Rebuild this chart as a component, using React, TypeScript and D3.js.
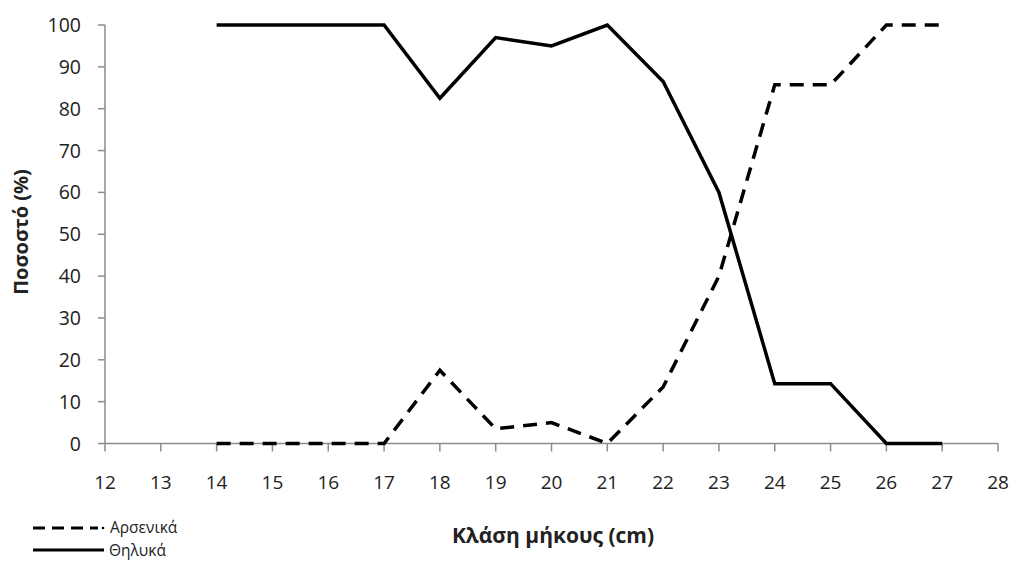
import React from "react";
import * as d3 from "d3";

const lengthClasses = [14, 15, 16, 17, 18, 19, 20, 21, 22, 23, 24, 25, 26, 27];
const males = [0, 0, 0, 0, 17.5, 3.5, 5, 0, 13.5, 40, 85.7, 85.7, 100, 100];
const females = [100, 100, 100, 100, 82.5, 97, 95, 100, 86.5, 60, 14.3, 14.3, 0, 0];
const xTicks = d3.range(12, 29);
const yTicks = d3.range(0, 101, 10);

const W = 1015;
const H = 561;
const FONT = "'Open Sans', 'Noto Sans', sans-serif";

export default function App() {
  const x = d3.scaleLinear().domain([12, 28]).range([105, 998]);
  const y = d3.scaleLinear().domain([0, 100]).range([443.5, 25]);
  const line = d3
    .line<number>()
    .x((_, i) => x(lengthClasses[i]))
    .y((d) => y(d));
  const axisColor = "#8c8c8c";
  return (
    <svg
      width={W}
      height={H}
      style={{ position: "absolute", left: 0, top: 0, background: "#fff" }}
      fontFamily={FONT}
    >
      <rect width={W} height={H} fill="#fff" />
      {/* y axis */}
      <line x1={x(12)} x2={x(12)} y1={y(0)} y2={y(100)} stroke={axisColor} strokeWidth={1.5} />
      {yTicks.map((t) => (
        <g key={"y" + t}>
          <line x1={x(12) - 7} x2={x(12)} y1={y(t)} y2={y(t)} stroke={axisColor} strokeWidth={1.5} />
          <text x={81} y={y(t)} dy="0.36em" textAnchor="end" fontSize={19.5} fill="#222">
            {t}
          </text>
        </g>
      ))}
      {/* x axis */}
      <line x1={x(12)} x2={x(28)} y1={y(0)} y2={y(0)} stroke={axisColor} strokeWidth={1.5} />
      {xTicks.map((t) => (
        <g key={"x" + t}>
          <line x1={x(t)} x2={x(t)} y1={y(0)} y2={y(0) + 8} stroke={axisColor} strokeWidth={1.5} />
          <text x={x(t)} y={489} textAnchor="middle" fontSize={19} fill="#222">
            {t}
          </text>
        </g>
      ))}
      {/* series */}
      <path d={line(females) || ""} fill="none" stroke="#000" strokeWidth={3.5} strokeLinejoin="miter" />
      <path
        d={line(males) || ""}
        fill="none"
        stroke="#000"
        strokeWidth={3.5}
        strokeDasharray="14 9"
        strokeLinejoin="miter"
      />
      {/* axis titles */}
      <text
        transform={`translate(28,232) rotate(-90)`}
        textAnchor="middle"
        fontSize={20}
        fontWeight="bold"
        fill="#222"
      >
        Ποσοστό (%)
      </text>
      <text x={553} y={543} textAnchor="middle" fontSize={21} fontWeight="bold" fill="#222">
        Κλάση μήκους (cm)
      </text>
      {/* legend */}
      <line x1={33} x2={98} y1={528} y2={528} stroke="#000" strokeWidth={3} strokeDasharray="12 7" />
      <circle cx={103} cy={528} r={1.3} fill="#000" />
      <text x={110} y={533} fontSize={15.5} fill="#222">
        Αρσενικά
      </text>
      <line x1={33} x2={104} y1={550} y2={550} stroke="#000" strokeWidth={3} />
      <text x={109} y={556} fontSize={15.5} fill="#222">
        Θηλυκά
      </text>
    </svg>
  );
}
